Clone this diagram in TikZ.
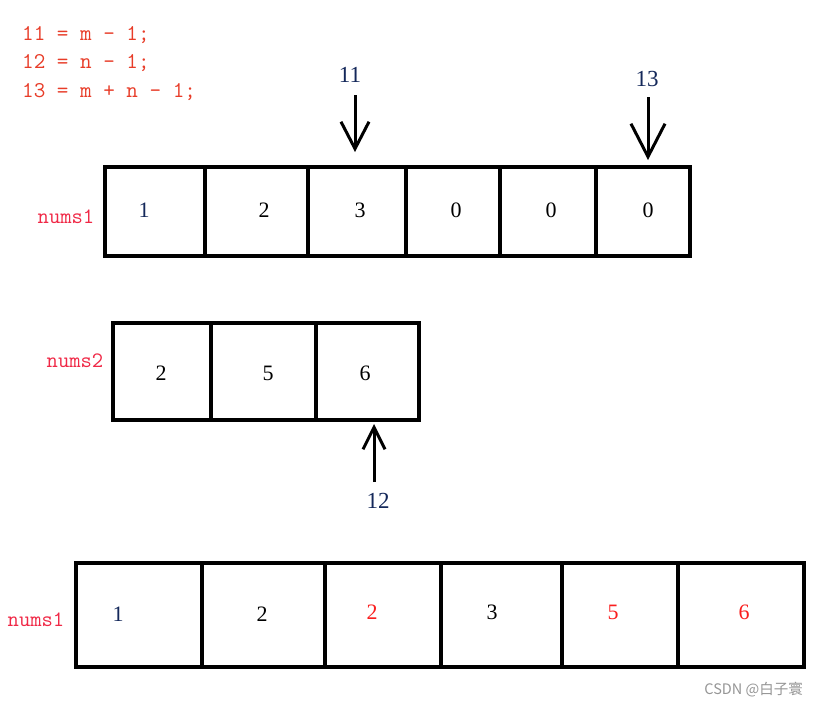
\documentclass[tikz,border=0pt]{standalone}
\usepackage{fontspec}
\newfontfamily\timesf{Liberation Serif}
\newfontfamily\cjkf{Noto Sans CJK SC}
\usetikzlibrary{arrows.meta}
\definecolor{codered}{RGB}{232,60,40}
\definecolor{namered}{RGB}{240,40,70}
\definecolor{digred}{RGB}{250,30,30}
\definecolor{navy}{RGB}{20,40,90}
\definecolor{wmgray}{RGB}{150,150,150}
\begin{document}
\begin{tikzpicture}[x=1pt,y=-1pt,
  cell/.style={draw=black,line width=3.6pt,inner sep=0pt},
  dig/.style={font=\timesf\fontsize{22}{22}\selectfont,inner sep=0pt},
  code/.style={font=\ttfamily\fontsize{22.5}{22.5}\selectfont,text=codered,anchor=west,inner sep=0pt},
  arrname/.style={font=\ttfamily\fontsize{22}{22}\selectfont,text=namered,inner sep=0pt},
  ptr/.style={font=\timesf\fontsize{23}{23}\selectfont,text=navy,inner sep=0pt},
  arr/.style={line width=3pt},
]
\useasboundingbox[fill=white] (0,0) rectangle (817,707);

% code text
\node[code] (t1) at (22,35) {11 = m - 1;};
\node[code] (t2) at (22,63) {12 = n - 1;};
\node[code] (t3) at (22,92) {13 = m + n - 1;};

% row 1
\foreach \n/\xa/\xb in {a1/105/205, a2/205/308, a3/308/406, a4/406/500, a5/500/596, a6/596/690}{
  \path[cell] (\xa,167) rectangle (\xb,256);
  \coordinate (\n) at ({(\xa+\xb)/2},211);
}
\node[arrname] (n1) at (66,217) {nums1};
\node[dig,text=navy] (d11) at (144,210) {1};
\node[dig] (d12) at (264,210) {2};
\node[dig] (d13) at (360,210) {3};
\node[dig] (d14) at (456,210) {0};
\node[dig] (d15) at (551,210) {0};
\node[dig] (d16) at (648,210) {0};

% pointer 11
\node[ptr] (p1) at (350,75) {11};
\coordinate (s1) at (355,95);
\coordinate (e1) at (355,152);
\draw[arr,-{Straight Barb[length=27pt,width=28pt,line width=3pt]}] (s1) -- (e1);
% pointer 13
\node[ptr] (p3) at (647,79) {13};
\coordinate (s3) at (648,97);
\coordinate (e3) at (648,160);
\draw[arr,-{Straight Barb[length=33pt,width=34pt,line width=3pt]}] (s3) -- (e3);

% row 2
\foreach \n/\xa/\xb in {b1/113/211, b2/211/316, b3/316/419}{
  \path[cell] (\xa,323) rectangle (\xb,420);
  \coordinate (\n) at ({(\xa+\xb)/2},371);
}
\node[arrname] (n2) at (75,361) {nums2};
\node[dig] (d21) at (161,373) {2};
\node[dig] (d22) at (268,373) {5};
\node[dig] (d23) at (365,373) {6};

% pointer 12
\node[ptr] (p2) at (378,501) {12};
\coordinate (s2) at (374,482);
\coordinate (e2) at (374,424);
\draw[arr,-{Straight Barb[length=22pt,width=22pt,line width=3pt]}] (s2) -- (e2);

% row 3
\foreach \n/\xa/\xb in {c1/76/202, c2/202/325, c3/325/441, c4/441/562, c5/562/678, c6/678/804}{
  \path[cell] (\xa,563) rectangle (\xb,667);
  \coordinate (\n) at ({(\xa+\xb)/2},615);
}
\node[arrname] (n3) at (36,620) {nums1};
\node[dig,text=navy] (d31) at (118,614) {1};
\node[dig] (d32) at (262,614) {2};
\node[dig,text=digred] (d33) at (372,612) {2};
\node[dig] (d34) at (492,612) {3};
\node[dig,text=digred] (d35) at (613,612) {5};
\node[dig,text=digred] (d36) at (744,612) {6};

% watermark
\node[font=\cjkf\fontsize{14.5}{14.5}\selectfont,text=wmgray,anchor=east,inner sep=0pt] (wm) at (803,690) {CSDN @白子寰};
\end{tikzpicture}
\end{document}
